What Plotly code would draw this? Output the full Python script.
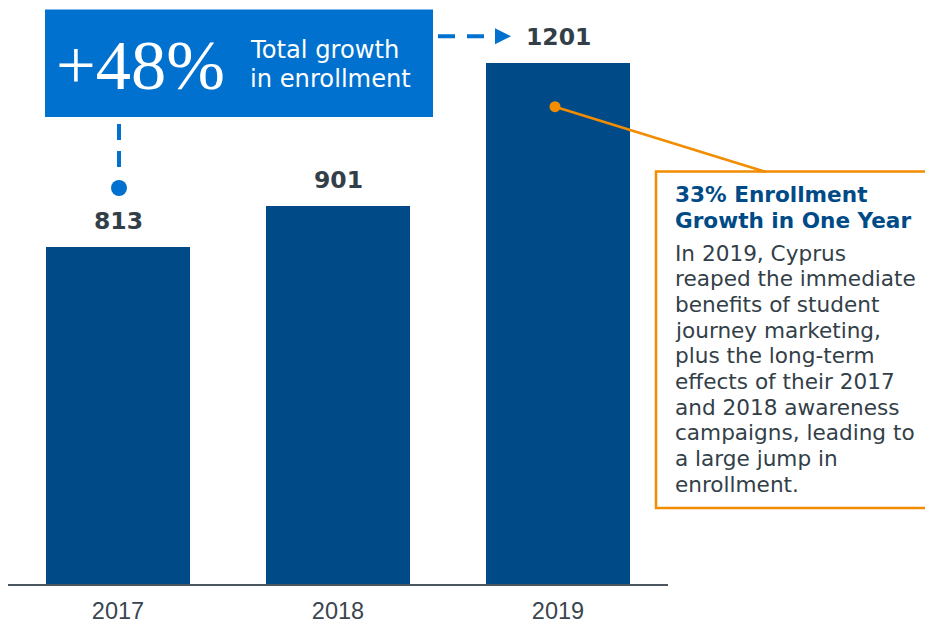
import plotly.graph_objects as go

# ---- data ----
years = [2017, 2018, 2019]
enrollment = [813, 901, 1201]
tick_labels = ["2017", "2018", "2019"]
growth_big = "+48%"
growth_caption = ["Total growth", "in enrollment"]
callout_title = ["33% Enrollment", "Growth in One Year"]
callout_body = [
    "In 2019, Cyprus",
    "reaped the immediate",
    "benefits of student",
    "journey marketing,",
    "plus the long-term",
    "effects of their 2017",
    "and 2018 awareness",
    "campaigns, leading to",
    "a large jump in",
    "enrollment.",
]

# ---- layout constants (pixels) ----
W, H = 925, 622
ML, MR, MT, MB = 8, 257, 0, 38
PW, PH = W - ML - MR, H - MT - MB

def px(x):
    return (x - ML) / PW

def py(y):
    return (H - MB - y) / PH

BAR = "#004B87"
BLUE = "#0071CE"
ORANGE = "#F28C00"
DARK = "#333F48"
SANS = "DejaVu Sans, Verdana, sans-serif"

fig = go.Figure()
fig.add_trace(go.Bar(
    x=years, y=enrollment, width=0.656,
    marker=dict(color=BAR, line=dict(width=0)),
    hoverinfo="skip",
))

shapes = []
# blue growth box
shapes.append(dict(type="rect", xref="paper", yref="paper",
                   x0=px(45), x1=px(433), y0=py(117), y1=py(9.5),
                   fillcolor=BLUE, line=dict(width=0)))
# horizontal dashed connector
shapes.append(dict(type="line", xref="paper", yref="paper",
                   x0=px(438), x1=px(484), y0=py(36.3), y1=py(36.3),
                   line=dict(color=BLUE, width=4, dash="17px,12px")))
# arrow head
shapes.append(dict(type="path", xref="paper", yref="paper",
                   path=f"M {px(495)},{py(28.3)} L {px(511)},{py(36.3)} L {px(495)},{py(44.3)} Z",
                   fillcolor=BLUE, line=dict(width=0)))
# vertical dashed connector
shapes.append(dict(type="line", xref="paper", yref="paper",
                   x0=px(119), x1=px(119), y0=py(124), y1=py(169),
                   line=dict(color=BLUE, width=4, dash="16px,11px")))
# blue dot
r = 8
shapes.append(dict(type="circle", xref="paper", yref="paper",
                   x0=px(119 - r), x1=px(119 + r), y0=py(188 + r), y1=py(188 - r),
                   fillcolor=BLUE, line=dict(width=0)))
# orange leader line
shapes.append(dict(type="line", xref="paper", yref="paper",
                   x0=px(555), x1=px(766), y0=py(106.7), y1=py(172),
                   line=dict(color=ORANGE, width=2.5)))
r2 = 5.5
shapes.append(dict(type="circle", xref="paper", yref="paper",
                   x0=px(555 - r2), x1=px(555 + r2), y0=py(106.7 + r2), y1=py(106.7 - r2),
                   fillcolor=ORANGE, line=dict(width=0)))
# orange callout box
shapes.append(dict(type="rect", xref="paper", yref="paper",
                   x0=px(656), x1=px(945), y0=py(508), y1=py(171.5),
                   fillcolor="rgba(0,0,0,0)", line=dict(color=ORANGE, width=2.5)))

ann = []
# value labels
for yr, v in zip(years, enrollment):
    ann.append(dict(x=yr, y=v, xref="x", yref="y", text=f"<b>{v}</b>",
                    showarrow=False, yshift=26, xanchor="center", yanchor="middle",
                    font=dict(family=SANS, size=23.5, color=DARK)))
# +48%
ann.append(dict(x=px(54), y=py(65.0), xref="paper", yref="paper", text=growth_big,
                showarrow=False, xanchor="left", yanchor="middle",
                font=dict(family="Liberation Serif, serif", size=70.5, color="white")))
for i, t in enumerate(growth_caption):
    base = 58.3 + 29 * i
    ann.append(dict(x=px(248), y=py(base - 0.346 * 24.2), xref="paper", yref="paper",
                    text=t, showarrow=False, xanchor="left", yanchor="middle",
                    font=dict(family=SANS, size=24.2, color="white")))
for i, t in enumerate(callout_title):
    base = 201.7 + 26.6 * i
    ann.append(dict(x=px(673), y=py(base - 0.346 * 21.6), xref="paper", yref="paper",
                    text=f"<b>{t}</b>", showarrow=False, xanchor="left", yanchor="middle",
                    font=dict(family=SANS, size=21.6, color=BAR)))
for i, t in enumerate(callout_body):
    base = 260.7 + 25.67 * i
    ann.append(dict(x=px(673), y=py(base - 0.346 * 21.6), xref="paper", yref="paper",
                    text=t, showarrow=False, xanchor="left", yanchor="middle",
                    font=dict(family=SANS, size=21.6, color=DARK)))

fig.update_layout(
    width=W, height=H,
    margin=dict(l=ML, r=MR, t=MT, b=MB, pad=0, autoexpand=False),
    paper_bgcolor="white", plot_bgcolor="white",
    showlegend=False, bargap=0,
    shapes=shapes, annotations=ann,
    xaxis=dict(range=[2016.5, 2019.5], tickvals=years, ticktext=tick_labels,
               showline=True, linecolor="#4B5661", linewidth=2, ticks="",
               showgrid=False, zeroline=False, fixedrange=True, automargin=False,
               ticklabelstandoff=5,
               tickfont=dict(family="Liberation Sans, Arial, sans-serif", size=23.5, color="#3A4550")),
    yaxis=dict(range=[103.0, 1334.5], visible=False, showgrid=False, zeroline=False,
               fixedrange=True, automargin=False),
)

fig.write_html("out.html", config={"displayModeBar": False})
